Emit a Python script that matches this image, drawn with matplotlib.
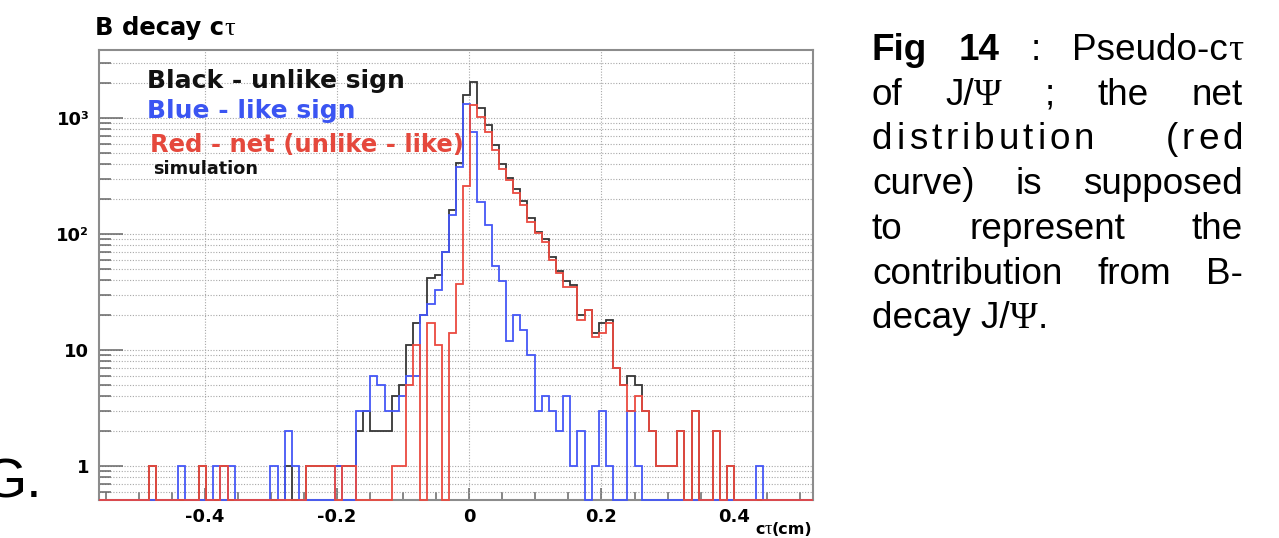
import matplotlib
matplotlib.use('Agg')
import matplotlib.pyplot as plt
import numpy as np
from matplotlib.ticker import LogLocator, FixedLocator, MultipleLocator, NullFormatter

W, H = 1279, 538
fig = plt.figure(figsize=(W / 100, H / 100), dpi=100)

# 100 bins of pseudo-ctau (cm)
x_lo, x_hi = -0.56, 0.52
edges = np.linspace(x_lo, x_hi, 101)

unlike_sign = [
    0, 0, 0, 0, 0, 0, 0, 1, 0, 0,
    0, 0, 0, 0, 1, 0, 0, 1, 0, 0,
    0, 0, 0, 0, 0, 0, 1, 0, 0, 1,
    1, 1, 1, 1, 1, 1, 2, 3, 2, 2,
    2, 4, 5, 11, 17, 20, 42, 44, 70, 160,
    410, 1580, 2050, 1210, 870, 585, 405, 302, 244, 193,
    137, 104, 90, 63, 48, 39, 36, 20, 22, 14,
    17, 18, 7, 5, 6, 5, 3, 2, 1, 1,
    1, 2, 0, 3, 0, 0, 2, 0, 1, 0,
    0, 0, 0, 0, 0, 0, 0, 0, 0, 0,
]
like_sign = [
    0, 0, 0, 0, 0, 0, 0, 0, 0, 0,
    0, 1, 0, 0, 0, 0, 1, 0, 1, 0,
    0, 0, 0, 0, 1, 0, 2, 1, 0, 0,
    0, 0, 0, 1, 0, 0, 3, 3, 6, 5,
    3, 3, 4, 6, 6, 20, 25, 33, 70, 146,
    380, 1320, 760, 190, 120, 53, 39, 12, 20, 15,
    9, 3, 4, 3, 2, 4, 1, 2, 0, 1,
    3, 1, 0, 0, 3, 1, 0, 0, 0, 0,
    0, 0, 0, 0, 0, 0, 0, 0, 0, 0,
    0, 0, 1, 0, 0, 0, 0, 0, 0, 0,
]
net = [
    0, 0, 0, 0, 0, 0, 0, 1, 0, 0,
    0, 0, 0, 0, 1, 0, 0, 1, 0, 0,
    0, 0, 0, 0, 0, 0, 0, 0, 0, 1,
    1, 1, 1, 0, 1, 1, 0, 0, 0, 0,
    0, 1, 1, 5, 11, 0, 17, 11, 0, 14,
    37, 260, 1300, 1020, 750, 532, 366, 290, 224, 178,
    128, 101, 86, 60, 46, 35, 35, 18, 22, 13,
    14, 17, 7, 5, 3, 4, 3, 2, 1, 1,
    1, 2, 0, 3, 0, 0, 2, 0, 1, 0,
    0, 0, 0, 0, 0, 0, 0, 0, 0, 0,
]

x_ticks = [-0.4, -0.2, 0, 0.2, 0.4]
x_labels = ['-0.4', '-0.2', '0', '0.2', '0.4']
y_ticks = [1, 10, 100, 1000]
y_labels = ['1', '10', '10²', '10³']

y_bot, y_top = 0.509, 3855

ax = fig.add_axes([99 / W, 1 - 500 / H, (813 - 99) / W, (500 - 50) / H])
ax.set_yscale('log')
ax.set_xlim(x_lo, x_hi)
ax.set_ylim(y_bot, y_top)

# empty bins sit on the bottom of the frame
for vals, col in [(unlike_sign, '#363636'), (like_sign, '#4557f6'), (net, '#ea4a40')]:
    v = np.asarray(vals, dtype=float)
    v = np.where(v > 0, v, y_bot)
    ax.stairs(v, edges, baseline=None, color=col, lw=1.3, clip_on=False, zorder=3)

ax.yaxis.set_major_locator(FixedLocator(y_ticks))
ax.set_yticks(y_ticks, y_labels, fontweight='bold', fontsize=13)
ax.yaxis.set_minor_locator(LogLocator(base=10, subs=np.arange(2, 10)))
ax.yaxis.set_minor_formatter(NullFormatter())
ax.set_xticks(x_ticks, x_labels, fontweight='bold', fontsize=13)
ax.xaxis.set_minor_locator(MultipleLocator(0.05))

ax.tick_params(axis='y', which='major', direction='in', length=17, width=1.1,
               color='#666666', pad=7)
ax.tick_params(axis='y', which='minor', direction='in', length=8.5, width=1.1,
               color='#666666')
ax.tick_params(axis='x', which='major', direction='in', length=9, width=1.1,
               color='#666666', pad=6)
ax.tick_params(axis='x', which='minor', direction='in', length=5.5, width=1.1,
               color='#666666')

grid_kw = dict(color='#a8a8a8', linestyle=(0, (1, 1.5)), linewidth=0.8)
ax.grid(True, which='both', axis='y', **grid_kw)
ax.grid(True, which='major', axis='x', **grid_kw)
ax.set_axisbelow(True)
for sp in ax.spines.values():
    sp.set_color('#8c8c8c')
    sp.set_linewidth(1.5)

renderer = fig.canvas.get_renderer()


def put(x, y, pieces, **extra):
    for s, kw in pieces:
        t = fig.text(x / W, 1 - y / H, s, va='baseline', ha='left', **kw, **extra)
        x += t.get_window_extent(renderer).width
    return x


def width(pieces):
    w = 0
    for s, kw in pieces:
        t = fig.text(0, 0, s, **kw)
        w += t.get_window_extent(renderer).width
        t.remove()
    return w


bold = dict(family='DejaVu Sans', fontweight='bold')
serif = dict(family='Liberation Serif')

# title and legend text inside the plot
put(95, 35, [('B decay c', dict(bold, fontsize=17.5)), ('τ', dict(serif, fontsize=19))])
put(147, 88, [('Black - unlike sign', dict(bold, fontsize=18, color='#111111'))])
put(147, 118, [('Blue - like sign', dict(bold, fontsize=18, color='#3b55f2'))])
put(150, 152, [('Red - net (unlike - like)', dict(bold, fontsize=17.5, color='#e5483c'))])
put(153, 174, [('simulation', dict(bold, fontsize=12.7, color='#111111'))])

# axis title along the bottom edge, right of the last tick label
put(755, 534, [('c', dict(bold, fontsize=11.5)), ('τ', dict(serif, fontsize=13.5)),
               ('(cm)', dict(bold, fontsize=11.5))])

# caption on the right, justified
body = dict(family='Liberation Sans', fontsize=26.6, color='black')
body_b = dict(body, fontweight='bold')
greek = dict(family='Liberation Serif', fontsize=27, color='black')
L, R = 872, 1243


def justify(y, words, letter_sp=0):
    units = []
    for w in words:
        if letter_sp:
            chars = [(c, kw) for s, kw in w for c in s]
            units.append((chars, width(chars) + letter_sp * (len(chars) - 1)))
        else:
            units.append((w, width(w)))
    gap = (R - L - sum(u[1] for u in units)) / (len(units) - 1)
    x = L
    for pieces, w in units:
        if letter_sp:
            xx = x
            for c in pieces:
                xx = put(xx, y, [c]) + letter_sp
        else:
            put(x, y, pieces)
        x += w + gap


lines = [
    [[('Fig', body_b)], [('14', body_b)], [(':', body)], [('Pseudo-c', body), ('τ', greek)]],
    [[('of', body)], [('J/', body), ('Ψ', greek)], [(';', body)], [('the', body)], [('net', body)]],
    [[('distribution', body)], [('(red', body)]],
    [[('curve)', body)], [('is', body)], [('supposed', body)]],
    [[('to', body)], [('represent', body)], [('the', body)]],
    [[('contribution', body)], [('from', body)], [('B-', body)]],
]
base0, step = 60, 44.7
for k, words in enumerate(lines):
    justify(base0 + step * k, words, letter_sp=4 if k == 2 else 0)
put(L, base0 + step * 6, [('decay J/', body), ('Ψ', greek), ('.', body)])

# leftover heading letters at the left edge
fig.text(42 / W, 1 - 498 / H, 'G.', family='Liberation Sans', fontsize=40,
         va='baseline', ha='right')

fig.savefig('out.png', dpi=100)
